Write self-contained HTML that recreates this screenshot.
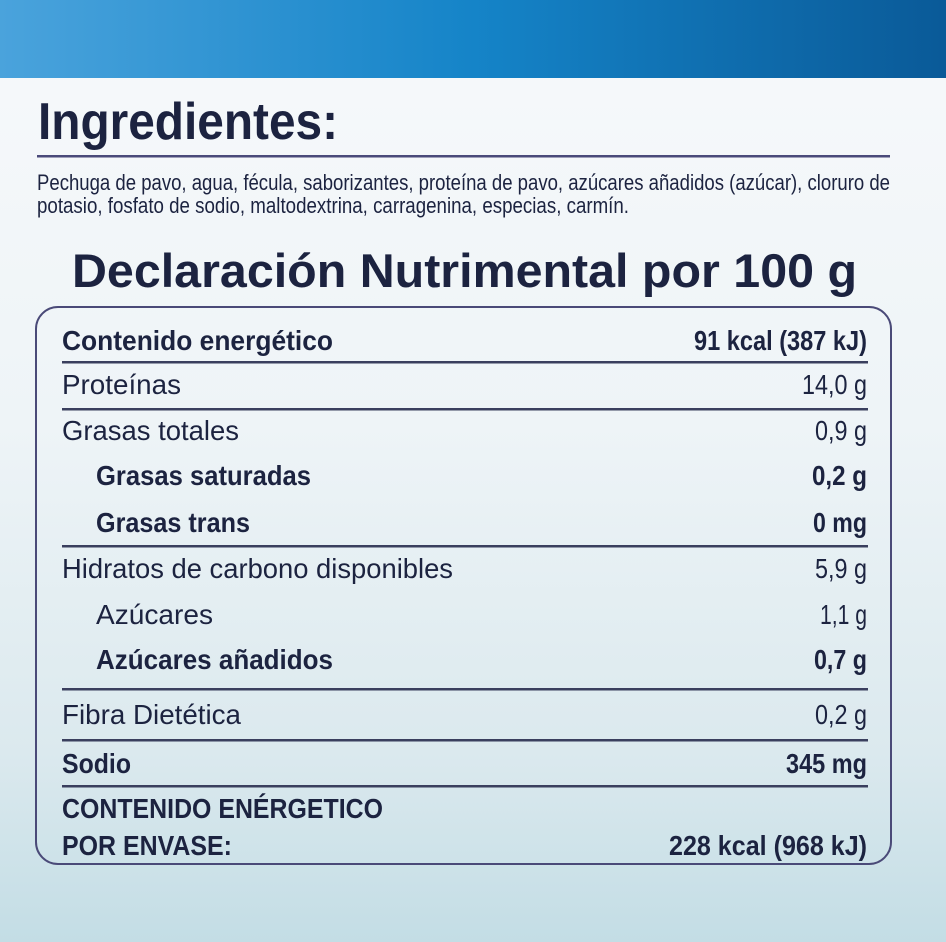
<!DOCTYPE html>
<html><head><meta charset="utf-8"><style>
html,body{margin:0;padding:0;width:946px;height:942px;overflow:hidden}
</style></head><body>
<svg width="946" height="942" viewBox="0 0 946 942" xmlns="http://www.w3.org/2000/svg">
<defs>
<linearGradient id="bg" x1="0" y1="0" x2="0" y2="1">
<stop offset="0" stop-color="#f7f9fb"/><stop offset="0.45" stop-color="#eef4f7"/><stop offset="0.8" stop-color="#dbe9ee"/><stop offset="1" stop-color="#c3dde5"/></linearGradient>
<linearGradient id="ban" x1="0" y1="0" x2="1" y2="0">
<stop offset="0" stop-color="#4aa3dc"/><stop offset="0.5" stop-color="#1584c8"/><stop offset="1" stop-color="#0a5a98"/></linearGradient>
</defs>
<rect width="946" height="942" fill="url(#bg)"/>
<rect width="946" height="78" fill="url(#ban)"/>
<g font-family="Liberation Sans, sans-serif" fill="#1c2340">
<text x="38" y="139" font-size="52" font-weight="bold" textLength="300" lengthAdjust="spacingAndGlyphs">Ingredientes:</text>
<rect x="37" y="155" width="853" height="2.5" fill="#4a4a7a"/>
<text x="37" y="190" font-size="22" textLength="853" lengthAdjust="spacingAndGlyphs">Pechuga de pavo, agua, fécula, saborizantes, proteína de pavo, azúcares añadidos (azúcar), cloruro de</text>
<text x="37" y="213" font-size="22" textLength="592" lengthAdjust="spacingAndGlyphs">potasio, fosfato de sodio, maltodextrina, carragenina, especias, carmín.</text>
<text x="72" y="287" font-size="47" font-weight="bold" textLength="785" lengthAdjust="spacingAndGlyphs">Declaración Nutrimental por 100 g</text>
<rect x="36" y="307" width="855" height="557" rx="22" fill="none" stroke="#4a4a78" stroke-width="2"/>
<g fill="#3a3f5e">
<rect x="62" y="361" width="806" height="2.5"/>
<rect x="62" y="408" width="806" height="2.5"/>
<rect x="62" y="545" width="806" height="2.5"/>
<rect x="62" y="688" width="806" height="2.5"/>
<rect x="62" y="739" width="806" height="2.5"/>
<rect x="62" y="785" width="806" height="2.5"/>
</g>
<g font-size="28">
<text x="62" y="350" font-weight="bold" textLength="271" lengthAdjust="spacingAndGlyphs">Contenido energético</text>
<text x="694" y="350" font-weight="bold" textLength="173" lengthAdjust="spacingAndGlyphs">91 kcal (387 kJ)</text>
<text x="62" y="394" textLength="119" lengthAdjust="spacingAndGlyphs">Proteínas</text>
<text x="802" y="394" textLength="65" lengthAdjust="spacingAndGlyphs">14,0 g</text>
<text x="62" y="440" textLength="177" lengthAdjust="spacingAndGlyphs">Grasas totales</text>
<text x="815" y="440" textLength="52" lengthAdjust="spacingAndGlyphs">0,9 g</text>
<text x="96" y="485" font-weight="bold" textLength="215" lengthAdjust="spacingAndGlyphs">Grasas saturadas</text>
<text x="812" y="485" font-weight="bold" textLength="55" lengthAdjust="spacingAndGlyphs">0,2 g</text>
<text x="96" y="532" font-weight="bold" textLength="154" lengthAdjust="spacingAndGlyphs">Grasas trans</text>
<text x="813" y="532" font-weight="bold" textLength="54" lengthAdjust="spacingAndGlyphs">0 mg</text>
<text x="62" y="578" textLength="391" lengthAdjust="spacingAndGlyphs">Hidratos de carbono disponibles</text>
<text x="815" y="578" textLength="52" lengthAdjust="spacingAndGlyphs">5,9 g</text>
<text x="96" y="624" textLength="117" lengthAdjust="spacingAndGlyphs">Azúcares</text>
<text x="820" y="624" textLength="47" lengthAdjust="spacingAndGlyphs">1,1 g</text>
<text x="96" y="669" font-weight="bold" textLength="237" lengthAdjust="spacingAndGlyphs">Azúcares añadidos</text>
<text x="814" y="669" font-weight="bold" textLength="53" lengthAdjust="spacingAndGlyphs">0,7 g</text>
<text x="62" y="724" textLength="179" lengthAdjust="spacingAndGlyphs">Fibra Dietética</text>
<text x="815" y="724" textLength="52" lengthAdjust="spacingAndGlyphs">0,2 g</text>
<text x="62" y="773" font-weight="bold" textLength="69" lengthAdjust="spacingAndGlyphs">Sodio</text>
<text x="786" y="773" font-weight="bold" textLength="81" lengthAdjust="spacingAndGlyphs">345 mg</text>
<text x="62" y="818" font-weight="bold" textLength="321" lengthAdjust="spacingAndGlyphs">CONTENIDO ENÉRGETICO</text>
<text x="62" y="855" font-weight="bold" textLength="170" lengthAdjust="spacingAndGlyphs">POR ENVASE:</text>
<text x="669" y="855" font-weight="bold" textLength="198" lengthAdjust="spacingAndGlyphs">228 kcal (968 kJ)</text>
</g>
</g>
</svg>
</body></html>
